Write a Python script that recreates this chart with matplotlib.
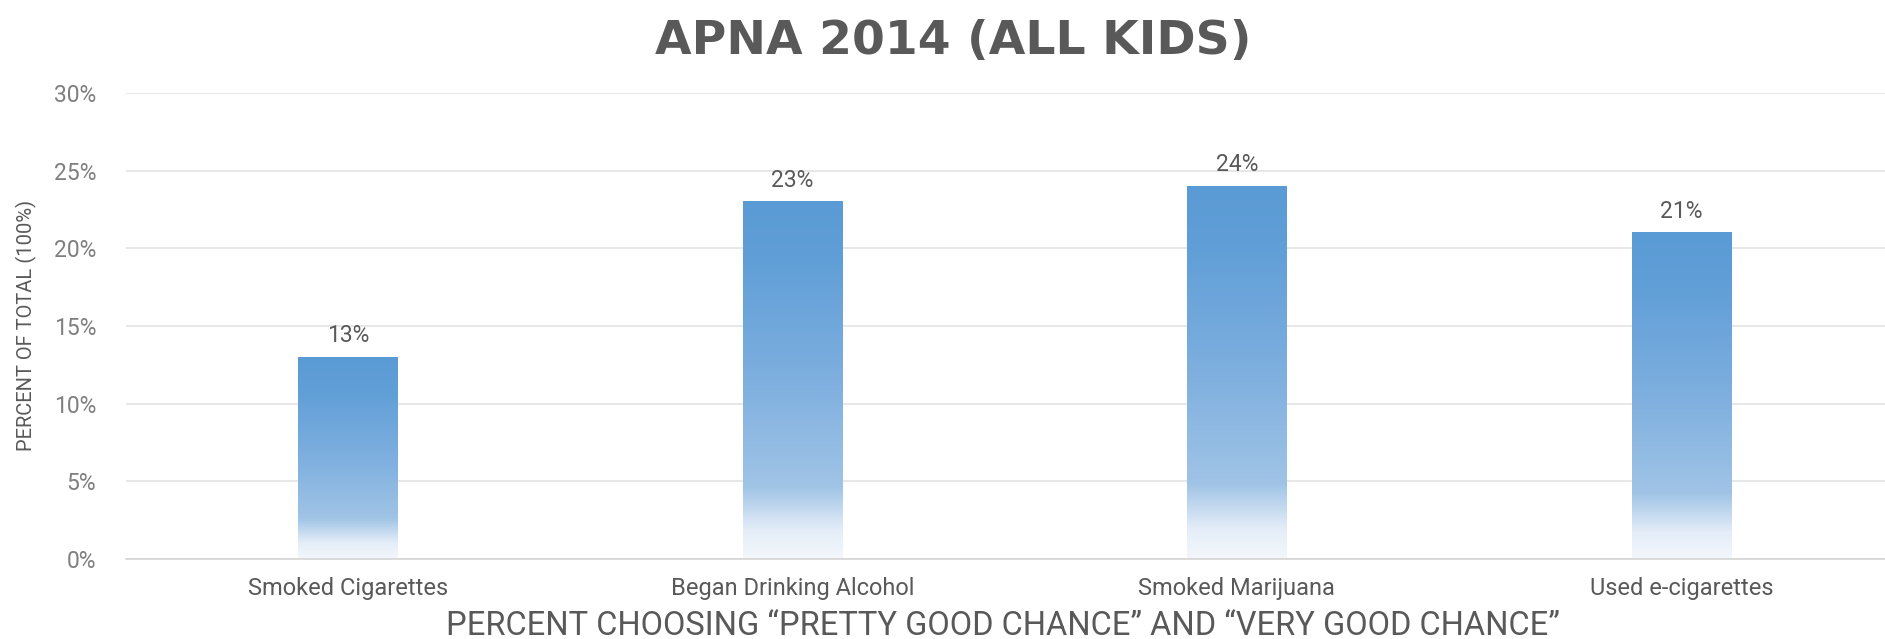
import numpy as np
import matplotlib.pyplot as plt
from matplotlib.colors import LinearSegmentedColormap

plt.rcParams['font.family'] = ['Roboto', 'DejaVu Sans']

# Data
categories = ['Smoked Cigarettes', 'Began Drinking Alcohol', 'Smoked Marijuana', 'Used e-cigarettes']
values = [13, 23, 24, 21]
yticks = [0, 5, 10, 15, 20, 25, 30]

# Fade from near-white at the bottom to Office blue at the top
grad_cmap = LinearSegmentedColormap.from_list(
    'fade', [(0.0, '#F3F7FC'), (0.08, '#E4EDF8'), (0.2, '#A0C4E6'),
             (0.5, '#7EAFDF'), (0.85, '#5F9ED7'), (1.0, '#5B9BD5')])

fig = plt.figure(figsize=(18.85, 6.39), dpi=100)
ax = fig.add_axes([0.0666, 0.1252, 0.9334, 0.7293])

x = np.arange(len(categories))
width = 0.223
bars = ax.bar(x, values, width=width, color='none', edgecolor='none', zorder=2)

grad = np.linspace(0, 1, 256).reshape(-1, 1)
for b in bars:
    x0 = b.get_x()
    h = b.get_height()
    ax.imshow(grad, cmap=grad_cmap, origin='lower', aspect='auto',
              extent=[x0, x0 + b.get_width(), 0, h], zorder=2)

for xi, v in zip(x, values):
    ax.annotate(f'{v}%', (xi, v), xytext=(0, 7), textcoords='offset points',
                ha='center', va='bottom', fontsize=16.5, color='#595959')

ax.set_xlim(-0.5, 3.458)
ax.set_ylim(0, 30)
ax.set_yticks(yticks)
ax.set_yticklabels([f'{t}%' for t in yticks])
ax.set_xticks(x)
ax.set_xticklabels(categories)
ax.tick_params(axis='y', length=0, pad=21, labelsize=16.5, labelcolor='#7F7F7F')
ax.tick_params(axis='x', length=0, pad=13, labelsize=17, labelcolor='#595959')

ax.grid(axis='y', color='#E3E3E3', linewidth=1.2)
ax.set_axisbelow(True)
for s in ['top', 'right', 'left']:
    ax.spines[s].set_visible(False)
ax.spines['bottom'].set_color('#D4D4D4')
ax.spines['bottom'].set_linewidth(1.2)

fig.text(0.5056, 0.935, 'APNA 2014 (ALL KIDS)', ha='center', va='center',
         fontsize=34, fontweight='bold', color='#595959', family=['DejaVu Sans'])
fig.text(0.0138, 0.49, 'PERCENT OF TOTAL (100%)', rotation=90, ha='center',
         va='center', fontsize=14.5, color='#595959')
fig.text(0.532, 0.0203, 'PERCENT CHOOSING \u201cPRETTY GOOD CHANCE\u201d AND \u201cVERY GOOD CHANCE\u201d',
         ha='center', va='center', fontsize=23.5, color='#595959')

fig.savefig('out.png', dpi=100)
